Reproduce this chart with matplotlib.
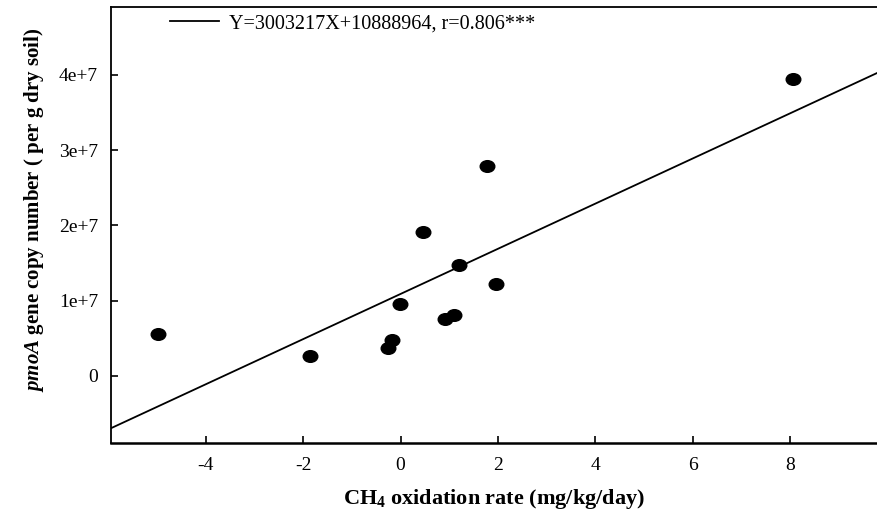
import matplotlib
matplotlib.use("Agg")
import matplotlib.pyplot as plt
import matplotlib.ticker as ticker
import matplotlib.transforms as mtransforms
from matplotlib.path import Path
import numpy as np

# CH4 oxidation rate (mg/kg/day) vs pmoA copies (per g dry soil)
rate = [-4.97, -1.86, -0.26, -0.18, -0.01, 0.47, 0.91, 1.09, 1.20, 1.78, 1.96, 8.05]
copies = [5.6e6, 2.63e6, 3.73e6, 4.76e6, 9.56e6, 1.907e7, 7.56e6, 8.13e6,
          1.48e7, 2.796e7, 1.223e7, 3.952e7]

slope = 3003217
intercept = 10888964
fit_label = "Y=3003217X+10888964, r=0.806***"

x_ticks = [-4, -2, 0, 2, 4, 6, 8]
y_ticks = [0, 1e7, 2e7, 3e7, 4e7]
y_tick_labels = ["0", "1e+7", "2e+7", "3e+7", "4e+7"]

plt.rcParams.update({
    "font.family": "Liberation Serif",
    "mathtext.fontset": "custom",
    "mathtext.rm": "Liberation Serif:bold",
    "mathtext.it": "Liberation Serif:italic:bold",
    "mathtext.bf": "Liberation Serif:bold",
})

fig = plt.figure(figsize=(8.77, 5.14), dpi=100)
ax = fig.add_axes([0.1262, 0.1375, 0.8738, 0.8483])

xlim = (-5.95, 9.78)
ax.set_xlim(*xlim)
ax.set_ylim(-0.897e7, 4.9e7)

xs = np.array(xlim)
ax.plot(xs, slope * xs + intercept, color="black", lw=1.3, label=fit_label)

# slightly oval dots, like the original
ell = Path.unit_circle().transformed(mtransforms.Affine2D().scale(1.0, 0.8))
ax.plot(rate, copies, linestyle="none", marker=ell, markersize=10.5,
        color="black", zorder=3)

ax.set_xticks(x_ticks)
ax.set_xticklabels([str(t) for t in x_ticks])
ax.yaxis.set_major_locator(ticker.FixedLocator(y_ticks))
ax.yaxis.set_major_formatter(ticker.FixedFormatter(y_tick_labels))
ax.tick_params(axis="both", direction="in", length=5, width=1.2, labelsize=14)
ax.tick_params(axis="x", pad=10)
ax.tick_params(axis="y", pad=9)

ax.spines["right"].set_visible(False)
ax.spines["top"].set_linewidth(1.3)
ax.spines["left"].set_linewidth(1.3)
ax.spines["bottom"].set_linewidth(1.8)

ax.set_xlabel(r"CH$_4$ oxidation rate (mg/kg/day)", fontsize=16,
              fontweight="bold", labelpad=9)
ax.set_ylabel(r"$\mathit{pmoA}$ gene copy number ( per g dry soil)",
              fontsize=15, fontweight="bold")
ax.yaxis.set_label_coords(-0.084, 0.535)

ax.legend(loc="center left", bbox_to_anchor=(0.0774, 0.962), frameon=False,
          borderpad=0, borderaxespad=0, handlelength=2.45, handletextpad=0.5,
          fontsize=14.5)

plt.savefig("out.png", dpi=100)
plt.close(fig)
